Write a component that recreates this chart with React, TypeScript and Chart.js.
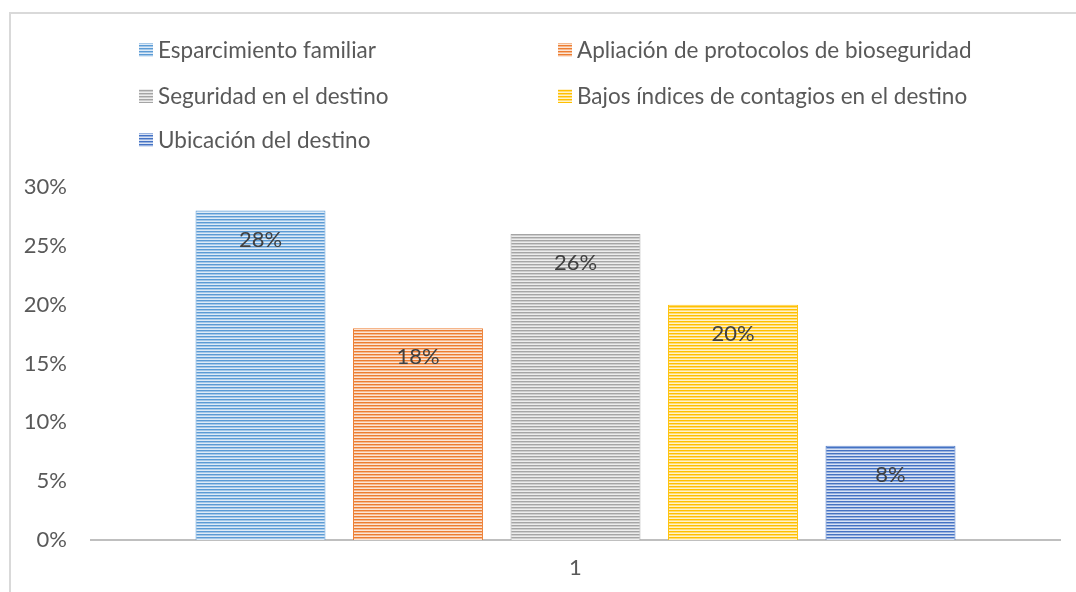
import React, { useEffect, useRef } from "react";
import { Chart, registerables } from "chart.js";

Chart.register(...registerables);

const categories = ["1"];
const seriesNames = [
  "Esparcimiento familiar",
  "Apliación de protocolos de bioseguridad",
  "Seguridad en el destino",
  "Bajos índices de contagios en el destino",
  "Ubicación del destino",
];
const seriesValues = [28, 18, 26, 20, 8];
const seriesColors = ["#5B9BD5", "#ED7D31", "#A5A5A5", "#FFC000", "#4472C4"];
const yMax = 30;
const yStep = 5;

const FONT = "Lato";
const TEXT = "#595959";

function makePattern(color: string): CanvasPattern | string {
  const c = document.createElement("canvas");
  c.width = 8;
  c.height = 3;
  const p = c.getContext("2d");
  if (!p) return color;
  p.fillStyle = "#ffffff";
  p.fillRect(0, 0, 8, 3);
  p.fillStyle = color;
  p.globalAlpha = 1;
  p.fillRect(0, 0, 8, 1);
  p.globalAlpha = 0.55;
  p.fillRect(0, 1, 8, 1);
  p.globalAlpha = 0.2;
  p.fillRect(0, 2, 8, 1);
  const pat = p.createPattern(c, "repeat");
  return pat || color;
}

export default function App() {
  const ref = useRef<HTMLCanvasElement | null>(null);

  useEffect(() => {
    if (!ref.current) return;
    const patterns = seriesColors.map((c) => makePattern(c));

    const framePlugin = {
      id: "frame",
      beforeDraw(chart: any) {
        const ctx = chart.ctx;
        ctx.save();
        ctx.fillStyle = "#ffffff";
        ctx.fillRect(0, 0, chart.width, chart.height);
        ctx.strokeStyle = "#d9d9d9";
        ctx.lineWidth = 2;
        ctx.beginPath();
        ctx.moveTo(10, chart.height);
        ctx.lineTo(10, 13);
        ctx.lineTo(chart.width, 13);
        ctx.stroke();
        ctx.restore();
      },
    };

    const legendPlugin = {
      id: "customLegend",
      afterDraw(chart: any) {
        const ctx = chart.ctx;
        const colX = [139, 558];
        const rowY = [50, 96, 140];
        ctx.save();
        ctx.font = `22.5px ${FONT}`;
        ctx.textBaseline = "middle";
        ctx.textAlign = "left";
        seriesNames.forEach((name, i) => {
          const x = colX[i % 2];
          const y = rowY[Math.floor(i / 2)];
          ctx.fillStyle = patterns[i];
          ctx.fillRect(x, y - 7, 14, 14);
          ctx.fillStyle = TEXT;
          ctx.fillText(name, x + 19, y + 1);
        });
        ctx.restore();
      },
    };

    const labelPlugin = {
      id: "dataLabels",
      afterDatasetsDraw(chart: any) {
        const ctx = chart.ctx;
        ctx.save();
        ctx.font = `22px ${FONT}`;
        ctx.textBaseline = "middle";
        ctx.textAlign = "center";
        ctx.fillStyle = "#404040";
        chart.data.datasets.forEach((ds: any, i: number) => {
          const meta = chart.getDatasetMeta(i);
          meta.data.forEach((bar: any, j: number) => {
            ctx.fillText(`${ds.data[j]}%`, bar.x, bar.y + 29);
          });
        });
        ctx.restore();
      },
    };

    const chart = new Chart(ref.current, {
      type: "bar",
      data: {
        labels: categories,
        datasets: seriesNames.map((name, i) => ({
          label: name,
          data: [seriesValues[i]],
          backgroundColor: patterns[i] as any,
          borderColor: seriesColors[i],
          borderWidth: 1,
          categoryPercentage: 0.8127,
          barPercentage: 0.825,
        })),
      },
      options: {
        animation: false,
        responsive: false,
        maintainAspectRatio: false,
        layout: { padding: { top: 187, right: 16, left: 0, bottom: 0 } },
        plugins: {
          legend: { display: false },
          tooltip: { enabled: false },
        },
        scales: {
          x: {
            grid: { display: false, drawTicks: false },
            border: { display: true, color: "#bfbfbf", width: 2 },
            ticks: { color: TEXT, font: { family: FONT, size: 22 }, padding: 15 },
            afterFit(s: any) {
              s.height = 52;
            },
          },
          y: {
            min: 0,
            max: yMax,
            grid: { display: false, drawTicks: false },
            border: { display: false },
            ticks: {
              stepSize: yStep,
              color: TEXT,
              font: { family: FONT, size: 22 },
              padding: 24,
              callback: (v: any) => `${v}%`,
            },
            afterFit(s: any) {
              s.width = 91;
            },
          },
        },
      },
      plugins: [framePlugin, legendPlugin, labelPlugin],
    });
    return () => chart.destroy();
  }, []);

  return (
    <div style={{ position: "fixed", left: 0, top: 0, width: 1076, height: 592, background: "#fff" }}>
      <canvas ref={ref} width={1076} height={592} />
    </div>
  );
}
